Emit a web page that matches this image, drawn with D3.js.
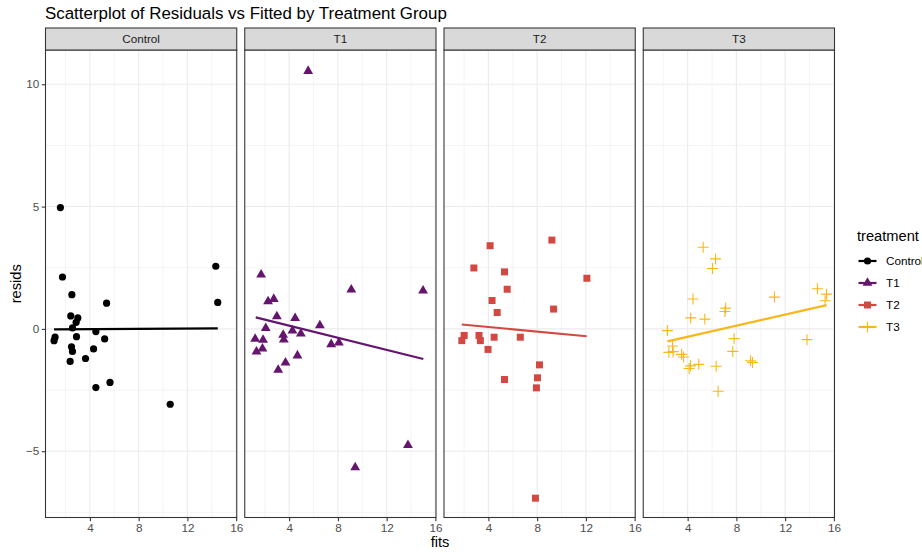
<!DOCTYPE html>
<html>
<head>
<meta charset="utf-8">
<script src="https://cdn.jsdelivr.net/npm/d3@7"></script>
<style>
  body { margin: 0; background: #fff; }
  text { font-family: "Liberation Sans", Arial, sans-serif; }
</style>
</head>
<body>
<script>
// ---------- data ----------
const groups = ["Control", "T1", "T2", "T3"];

const controlFits   = [1.58, 1.75, 2.52, 5.37, 14.33, 14.49, 2.43, 3.01, 2.87, 2.57, 4.49, 1.14, 1.06, 2.90, 5.21, 2.49, 2.57, 4.30, 3.64, 2.38, 5.65, 4.49, 10.59];
const controlResids = [4.96, 2.12, 1.40, 1.05, 2.56, 1.08, 0.53, 0.45, 0.27, 0.04, -0.11, -0.34, -0.48, -0.32, -0.41, -0.73, -0.92, -0.82, -1.21, -1.33, -2.19, -2.40, -3.08];

const t1Fits   = [5.56, 1.70, 9.10, 14.99, 2.27, 2.74, 2.99, 4.49, 6.52, 2.08, 4.27, 1.21, 1.86, 3.51, 4.96, 3.56, 1.32, 1.81, 7.45, 8.08, 4.68, 3.70, 3.10, 13.75, 9.42];
const t1Resids = [10.54, 2.22, 1.60, 1.56, 1.12, 1.22, 0.51, 0.44, 0.14, 0.03, -0.07, -0.41, -0.45, -0.25, -0.20, -0.44, -0.93, -0.81, -0.63, -0.56, -1.09, -1.38, -1.68, -4.75, -5.66];

const t2Fits   = [9.21, 4.14, 2.81, 5.32, 12.08, 5.54, 4.30, 9.35, 4.72, 2.01, 1.82, 3.23, 3.34, 4.47, 6.62, 3.97, 8.19, 5.32, 8.03, 7.94, 7.86];
const t2Resids = [3.63, 3.40, 2.49, 2.33, 2.07, 1.62, 1.16, 0.81, 0.67, -0.27, -0.48, -0.27, -0.48, -0.34, -0.34, -0.84, -1.47, -2.07, -2.00, -2.41, -6.92];

const t3Fits   = [5.27, 6.29, 6.04, 14.65, 15.40, 15.28, 11.12, 4.44, 7.12, 7.06, 4.25, 5.41, 2.34, 7.81, 13.79, 2.76, 2.46, 2.81, 7.70, 3.50, 3.66, 4.91, 4.23, 4.12, 6.34, 9.16, 9.32, 6.50];
const t3Resids = [3.34, 2.86, 2.47, 1.64, 1.42, 1.15, 1.30, 1.22, 0.85, 0.71, 0.45, 0.40, -0.07, -0.40, -0.44, -0.70, -0.96, -0.93, -0.92, -1.04, -1.15, -1.45, -1.51, -1.62, -1.53, -1.30, -1.37, -2.55];

// fitted (lm) line end points per group
const lineX0 = [1.06, 1.26, 1.82, 2.34];
const lineX1 = [14.49, 15.01, 12.06, 15.40];
const lineY0 = [-0.02, 0.47, 0.18, -0.51];
const lineY1 = [0.02, -1.23, -0.30, 0.97];

const xTicks = [4, 8, 12, 16];
const xMinor = [2, 6, 10, 14];
const yTicks = [-5, 0, 5, 10];
const yMinor = [-7.5, -2.5, 2.5, 7.5];

const titleText = "Scatterplot of Residuals vs Fitted by Treatment Group";
const xTitle = "fits";
const yTitle = "resids";
const legendTitle = "treatment";

// ---------- styles ----------
const colors = ["#000000", "#65156E", "#D44842", "#FBB61A"];
const shapes = ["circle", "triangle", "square", "plus"];

const W = 922, H = 552;
const plotLeft = 45.5, plotRight = 834.5, gap = 8;
const panelW = (plotRight - plotLeft - 3 * gap) / 4;
const stripTop = 28, panelTop = 50, panelBottom = 517.5;

const svg = d3.select("body").append("svg")
  .attr("width", W).attr("height", H);

const x = d3.scaleLinear().domain([0.357, 16.05]).range([0, panelW]);
const y = d3.scaleLinear().domain([-7.71, 11.40]).range([panelBottom, panelTop]);

const seriesX = [controlFits, t1Fits, t2Fits, t3Fits];
const seriesY = [controlResids, t1Resids, t2Resids, t3Resids];

function drawShape(g, shape, cx, cy, color) {
  if (shape === "circle") {
    g.append("circle").attr("cx", cx).attr("cy", cy).attr("r", 3.6).attr("fill", color);
  } else if (shape === "triangle") {
    g.append("path").attr("d", d3.symbol(d3.symbolTriangle, 42)())
      .attr("transform", `translate(${cx},${cy})`).attr("fill", color);
  } else if (shape === "square") {
    g.append("path").attr("d", d3.symbol(d3.symbolSquare, 49)())
      .attr("transform", `translate(${cx},${cy})`).attr("fill", color);
  } else {
    const a = 5.5;
    g.append("path").attr("d", `M${cx - a},${cy}H${cx + a}M${cx},${cy - a}V${cy + a}`)
      .attr("stroke", color).attr("stroke-width", 1.1).attr("fill", "none");
  }
}

// title
svg.append("text").attr("x", 45).attr("y", 18.5)
  .attr("font-size", 16.9).attr("fill", "#000").text(titleText);

groups.forEach((name, i) => {
  const left = plotLeft + i * (panelW + gap);
  const g = svg.append("g").attr("transform", `translate(${left},0)`);

  // background
  g.append("rect").attr("x", 0).attr("y", panelTop).attr("width", panelW)
    .attr("height", panelBottom - panelTop).attr("fill", "#fff");

  // minor grid
  g.selectAll(".vminor").data(xMinor).enter().append("line")
    .attr("x1", d => x(d)).attr("x2", d => x(d))
    .attr("y1", panelTop).attr("y2", panelBottom)
    .attr("stroke", "#EBEBEB").attr("stroke-width", 0.55);
  g.selectAll(".hminor").data(yMinor).enter().append("line")
    .attr("x1", 0).attr("x2", panelW)
    .attr("y1", d => y(d)).attr("y2", d => y(d))
    .attr("stroke", "#EBEBEB").attr("stroke-width", 0.55);
  // major grid
  g.selectAll(".vmajor").data(xTicks).enter().append("line")
    .attr("x1", d => x(d)).attr("x2", d => x(d))
    .attr("y1", panelTop).attr("y2", panelBottom)
    .attr("stroke", "#EBEBEB").attr("stroke-width", 1.07);
  g.selectAll(".hmajor").data(yTicks).enter().append("line")
    .attr("x1", 0).attr("x2", panelW)
    .attr("y1", d => y(d)).attr("y2", d => y(d))
    .attr("stroke", "#EBEBEB").attr("stroke-width", 1.07);

  // points
  const pts = g.append("g");
  seriesX[i].forEach((fx, k) => {
    drawShape(pts, shapes[i], x(fx), y(seriesY[i][k]), colors[i]);
  });

  // fitted line
  g.append("line")
    .attr("x1", x(lineX0[i])).attr("y1", y(lineY0[i]))
    .attr("x2", x(lineX1[i])).attr("y2", y(lineY1[i]))
    .attr("stroke", colors[i]).attr("stroke-width", 2.2);

  // border
  g.append("rect").attr("x", 0).attr("y", panelTop).attr("width", panelW)
    .attr("height", panelBottom - panelTop).attr("fill", "none")
    .attr("stroke", "#333333").attr("stroke-width", 1.07);

  // strip
  g.append("rect").attr("x", 0).attr("y", stripTop).attr("width", panelW)
    .attr("height", panelTop - stripTop).attr("fill", "#D9D9D9")
    .attr("stroke", "#333333").attr("stroke-width", 1.07);
  g.append("text").attr("x", panelW / 2).attr("y", (stripTop + panelTop) / 2 + 4)
    .attr("text-anchor", "middle").attr("font-size", 11.7).attr("fill", "#1A1A1A")
    .text(name);

  // x axis
  const xa = g.append("g").attr("transform", `translate(0,${panelBottom})`)
    .call(d3.axisBottom(x).tickValues(xTicks).tickSize(3.7).tickPadding(2.5).tickFormat(d3.format("d")));
  xa.select(".domain").remove();
  xa.selectAll("line").attr("stroke", "#333333").attr("stroke-width", 1.07);
  xa.selectAll("text").attr("fill", "#4D4D4D").attr("font-size", 11.7)
    .attr("font-family", "Liberation Sans, Arial, sans-serif");

  if (i === 0) {
    const ya = g.append("g")
      .call(d3.axisLeft(y).tickValues(yTicks).tickSize(3.7).tickPadding(2.5).tickFormat(d3.format("d")));
    ya.select(".domain").remove();
    ya.selectAll("line").attr("stroke", "#333333").attr("stroke-width", 1.07);
    ya.selectAll("text").attr("fill", "#4D4D4D").attr("font-size", 11.7)
      .attr("font-family", "Liberation Sans, Arial, sans-serif");
  }
});

// axis titles
svg.append("text").attr("x", (plotLeft + plotRight) / 2).attr("y", 547)
  .attr("text-anchor", "middle").attr("font-size", 14.67).attr("fill", "#000").text(xTitle);
svg.append("text")
  .attr("transform", `translate(21,${(panelTop + panelBottom) / 2}) rotate(-90)`)
  .attr("text-anchor", "middle").attr("font-size", 14.67).attr("fill", "#000").text(yTitle);

// legend
const lg = svg.append("g");
lg.append("text").attr("x", 857).attr("y", 241).attr("font-size", 14.67)
  .attr("fill", "#000").text(legendTitle);
groups.forEach((name, i) => {
  const cy = 261 + i * 22;
  lg.append("line").attr("x1", 858.5).attr("x2", 876.5)
    .attr("y1", cy).attr("y2", cy)
    .attr("stroke", colors[i]).attr("stroke-width", 2.2);
  drawShape(lg, shapes[i], 867.5, cy, colors[i]);
  lg.append("text").attr("x", 886).attr("y", cy + 4.2).attr("font-size", 11.7)
    .attr("fill", "#000").text(name);
});
</script>
</body>
</html>
